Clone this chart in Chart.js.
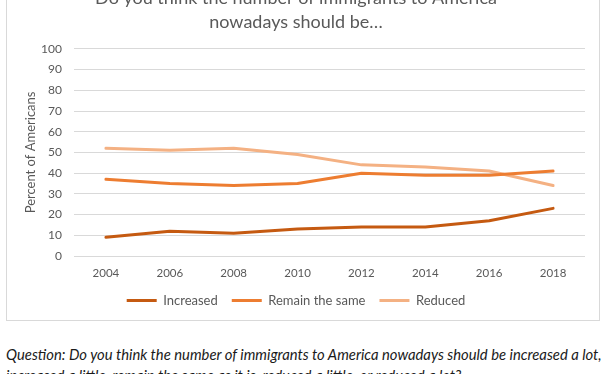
<!DOCTYPE html>
<html lang="en">
<head>
    <meta charset="UTF-8">
    <title>Immigration Opinion Chart</title>
    <script src="https://cdn.jsdelivr.net/npm/chart.js/dist/chart.umd.min.js"></script>
    <style>
        body { margin: 0; background: #fff; overflow: hidden; width: 612px; height: 374px; position: relative; }
        #box { position: absolute; left: 6px; top: -30px; width: 594px; height: 351px; border: 1px solid #d9d9d9; box-sizing: border-box; }
        #question { position: absolute; left: 6px; top: 344px; width: 606px; font-family: Lato, sans-serif; font-style: italic; font-size: 14.8px; line-height: 21px; color: #1a1a1a; white-space: nowrap; }
    </style>
</head>
<body>
    <div id="box"><canvas id="chart"></canvas></div>
    <div id="question">Question: Do you think the number of immigrants to America nowadays should be increased a lot,<br>increased a little, remain the same as it is, reduced a little, or reduced a lot?</div>
    <script>
// data
const years = ["2004", "2006", "2008", "2010", "2012", "2014", "2016", "2018"];
const increased = [9, 12, 11, 13, 14, 14, 17, 23];
const remainSame = [37, 35, 34, 35, 40, 39, 39, 41];
const reduced = [52, 51, 52, 49, 44, 43, 41, 34];

const grey = "#595959";

function line(label, values, color) {
    return {
        label: label,
        data: values,
        borderColor: color,
        backgroundColor: color,
        borderWidth: 3,
        pointRadius: 0,
        pointStyle: "line",
        borderCapStyle: "round",
        borderJoinStyle: "round",
        tension: 0,
        fill: false
    };
}

new Chart(document.getElementById("chart").getContext("2d"), {
    type: "line",
    data: {
        labels: years,
        datasets: [
            line("Increased", increased, "#c55a11"),
            line("Remain the same", remainSame, "#ed7d31"),
            line("Reduced", reduced, "#f4b183")
        ]
    },
    options: {
        responsive: true,
        maintainAspectRatio: false,
        animation: false,
        layout: { padding: { left: 0, right: 14, top: 0, bottom: 3 } },
        plugins: {
            tooltip: { enabled: false },
            title: {
                display: true,
                text: ["Do you think the number of immigrants to America", "nowadays should be\u2026"],
                color: grey,
                font: { family: "Lato", size: 18, weight: "normal", lineHeight: 1.33 },
                padding: { top: 15, bottom: 15 }
            },
            legend: {
                position: "bottom",
                labels: {
                    color: grey,
                    font: { family: "Lato", size: 13 },
                    usePointStyle: true,
                    pointStyle: "line",
                    pointStyleWidth: 30,
                    boxHeight: 13,
                    padding: 14
                }
            }
        },
        scales: {
            x: {
                offset: true,
                afterFit: scale => { scale.height = 24; },
                grid: { display: false, drawTicks: false },
                border: { display: false },
                ticks: { color: grey, font: { family: "Lato", size: 11.5 }, padding: 10 }
            },
            y: {
                min: 0,
                max: 100,
                afterFit: scale => { scale.width = 67; },
                grid: { color: "#d9d9d9", drawTicks: false },
                border: { display: false },
                ticks: { stepSize: 10, color: grey, font: { family: "Lato", size: 12 }, padding: 12 },
                title: {
                    display: true,
                    text: "Percent of Americans",
                    color: grey,
                    font: { family: "Lato", size: 13 },
                    padding: { top: 16, bottom: 0 }
                }
            }
        }
    }
});
    </script>
</body>
</html>
